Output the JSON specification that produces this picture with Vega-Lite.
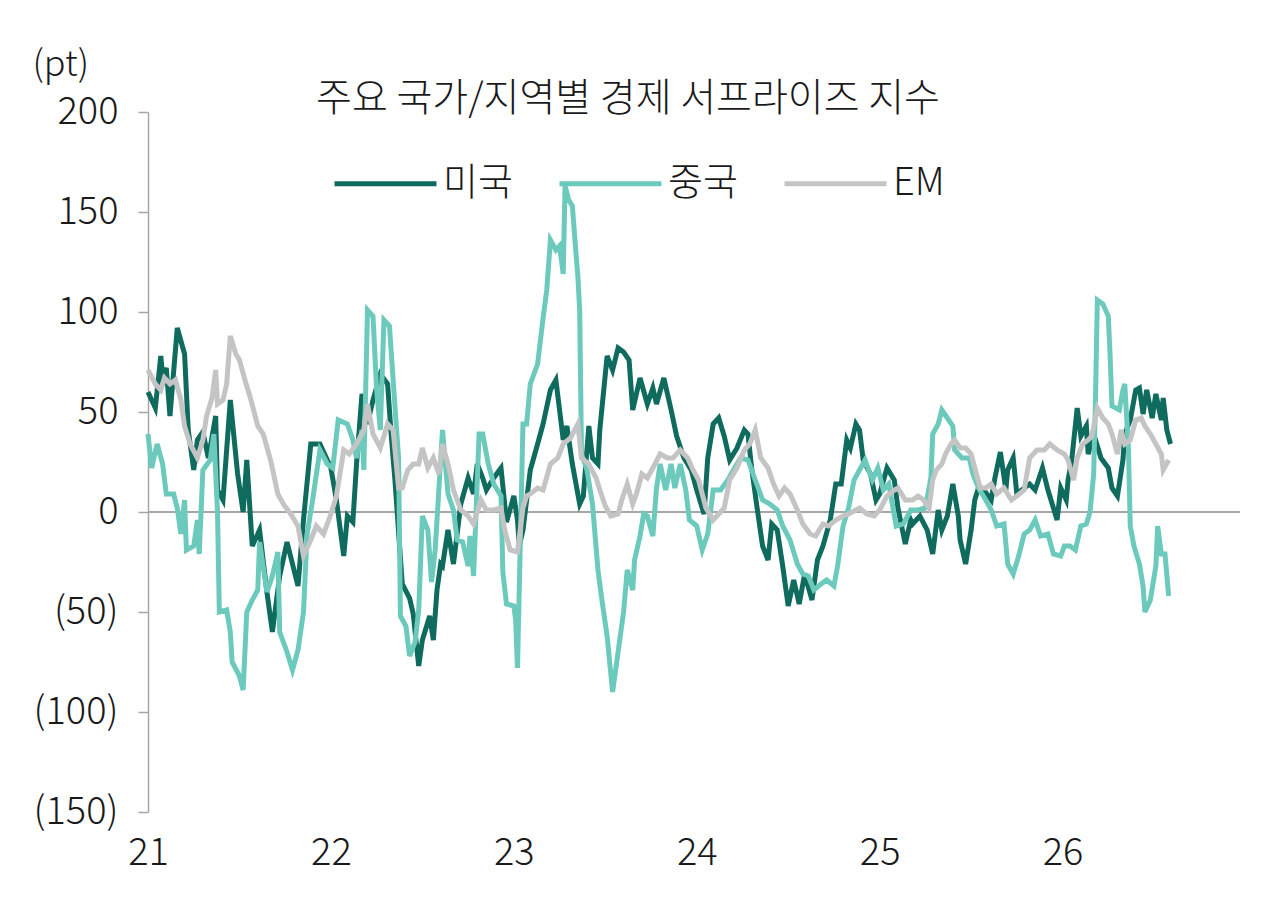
{
  "$schema": "https://vega.github.io/schema/vega-lite/v6.json",
  "description": "주요 국가/지역별 경제 서프라이즈 지수",
  "width": 1092,
  "height": 700,
  "autosize": {"type": "none"},
  "padding": {"left": 148, "top": 112, "right": 40, "bottom": 96},
  "background": "white",
  "config": {
    "font": "Noto Sans CJK KR",
    "view": {"stroke": null}
  },
  "title": {
    "text": "주요 국가/지역별 경제 서프라이즈 지수",
    "frame": "group",
    "anchor": "middle",
    "dx": -66,
    "baseline": "middle",
    "offset": -92,
    "fontSize": 39,
    "fontWeight": 300,
    "color": "#1a1a1a"
  },
  "data": {
    "values": [
      {"t":21.00,"s":"미국","v":60},{"t":21.04,"s":"미국","v":52},{"t":21.07,"s":"미국","v":78},{"t":21.08,"s":"미국","v":68},
      {"t":21.10,"s":"미국","v":72},{"t":21.12,"s":"미국","v":48},{"t":21.14,"s":"미국","v":70},{"t":21.16,"s":"미국","v":92},
      {"t":21.20,"s":"미국","v":79},{"t":21.22,"s":"미국","v":41},{"t":21.25,"s":"미국","v":21},{"t":21.27,"s":"미국","v":36},
      {"t":21.30,"s":"미국","v":40},{"t":21.33,"s":"미국","v":27},{"t":21.37,"s":"미국","v":48},{"t":21.38,"s":"미국","v":11},
      {"t":21.41,"s":"미국","v":6},{"t":21.45,"s":"미국","v":56},{"t":21.49,"s":"미국","v":19},{"t":21.52,"s":"미국","v":0},
      {"t":21.54,"s":"미국","v":26},{"t":21.57,"s":"미국","v":-17},{"t":21.61,"s":"미국","v":-9},{"t":21.65,"s":"미국","v":-40},
      {"t":21.68,"s":"미국","v":-60},{"t":21.72,"s":"미국","v":-32},{"t":21.76,"s":"미국","v":-15},{"t":21.82,"s":"미국","v":-37},
      {"t":21.85,"s":"미국","v":-4},{"t":21.89,"s":"미국","v":34},{"t":21.94,"s":"미국","v":34},{"t":22.00,"s":"미국","v":22},
      {"t":22.03,"s":"미국","v":6},{"t":22.07,"s":"미국","v":-22},{"t":22.09,"s":"미국","v":-2},{"t":22.12,"s":"미국","v":-5},
      {"t":22.14,"s":"미국","v":24},{"t":22.17,"s":"미국","v":59},{"t":22.20,"s":"미국","v":44},{"t":22.23,"s":"미국","v":56},
      {"t":22.27,"s":"미국","v":69},{"t":22.31,"s":"미국","v":64},{"t":22.32,"s":"미국","v":51},{"t":22.33,"s":"미국","v":38},
      {"t":22.35,"s":"미국","v":16},{"t":22.39,"s":"미국","v":-36},{"t":22.43,"s":"미국","v":-43},{"t":22.45,"s":"미국","v":-51},
      {"t":22.48,"s":"미국","v":-77},{"t":22.50,"s":"미국","v":-64},{"t":22.54,"s":"미국","v":-52},{"t":22.56,"s":"미국","v":-64},
      {"t":22.58,"s":"미국","v":-39},{"t":22.60,"s":"미국","v":-26},{"t":22.61,"s":"미국","v":-27},{"t":22.64,"s":"미국","v":-9},
      {"t":22.67,"s":"미국","v":-26},{"t":22.71,"s":"미국","v":4},{"t":22.75,"s":"미국","v":17},{"t":22.78,"s":"미국","v":9},
      {"t":22.80,"s":"미국","v":24},{"t":22.83,"s":"미국","v":17},{"t":22.85,"s":"미국","v":11},{"t":22.89,"s":"미국","v":17},
      {"t":22.93,"s":"미국","v":22},{"t":22.96,"s":"미국","v":-5},{"t":23.00,"s":"미국","v":8},{"t":23.02,"s":"미국","v":-4},
      {"t":23.03,"s":"미국","v":-17},{"t":23.05,"s":"미국","v":-9},{"t":23.09,"s":"미국","v":21},{"t":23.13,"s":"미국","v":34},
      {"t":23.16,"s":"미국","v":44},{"t":23.20,"s":"미국","v":61},{"t":23.23,"s":"미국","v":66},{"t":23.25,"s":"미국","v":51},
      {"t":23.27,"s":"미국","v":36},{"t":23.29,"s":"미국","v":43},{"t":23.32,"s":"미국","v":24},{"t":23.36,"s":"미국","v":4},
      {"t":23.38,"s":"미국","v":8},{"t":23.41,"s":"미국","v":43},{"t":23.43,"s":"미국","v":27},{"t":23.46,"s":"미국","v":24},
      {"t":23.47,"s":"미국","v":41},{"t":23.51,"s":"미국","v":78},{"t":23.54,"s":"미국","v":71},{"t":23.57,"s":"미국","v":82},
      {"t":23.60,"s":"미국","v":80},{"t":23.63,"s":"미국","v":76},{"t":23.65,"s":"미국","v":51},{"t":23.69,"s":"미국","v":67},
      {"t":23.73,"s":"미국","v":54},{"t":23.76,"s":"미국","v":62},{"t":23.78,"s":"미국","v":54},{"t":23.82,"s":"미국","v":67},
      {"t":23.86,"s":"미국","v":51},{"t":23.89,"s":"미국","v":38},{"t":23.93,"s":"미국","v":27},{"t":23.97,"s":"미국","v":21},
      {"t":24.00,"s":"미국","v":11},{"t":24.04,"s":"미국","v":-1},{"t":24.06,"s":"미국","v":27},{"t":24.09,"s":"미국","v":44},
      {"t":24.12,"s":"미국","v":47},{"t":24.15,"s":"미국","v":38},{"t":24.18,"s":"미국","v":26},{"t":24.22,"s":"미국","v":32},
      {"t":24.26,"s":"미국","v":41},{"t":24.28,"s":"미국","v":39},{"t":24.30,"s":"미국","v":22},{"t":24.33,"s":"미국","v":2},
      {"t":24.36,"s":"미국","v":-17},{"t":24.39,"s":"미국","v":-24},{"t":24.41,"s":"미국","v":-6},{"t":24.44,"s":"미국","v":-9},
      {"t":24.47,"s":"미국","v":-27},{"t":24.50,"s":"미국","v":-47},{"t":24.53,"s":"미국","v":-34},{"t":24.56,"s":"미국","v":-46},
      {"t":24.59,"s":"미국","v":-31},{"t":24.63,"s":"미국","v":-44},{"t":24.66,"s":"미국","v":-24},{"t":24.69,"s":"미국","v":-17},
      {"t":24.73,"s":"미국","v":-4},{"t":24.76,"s":"미국","v":14},{"t":24.79,"s":"미국","v":14},{"t":24.82,"s":"미국","v":36},
      {"t":24.84,"s":"미국","v":32},{"t":24.87,"s":"미국","v":44},{"t":24.89,"s":"미국","v":41},{"t":24.91,"s":"미국","v":26},
      {"t":24.95,"s":"미국","v":19},{"t":24.98,"s":"미국","v":6},{"t":25.00,"s":"미국","v":9},{"t":25.04,"s":"미국","v":22},
      {"t":25.08,"s":"미국","v":16},{"t":25.10,"s":"미국","v":2},{"t":25.14,"s":"미국","v":-16},{"t":25.17,"s":"미국","v":-4},
      {"t":25.18,"s":"미국","v":-6},{"t":25.22,"s":"미국","v":-2},{"t":25.26,"s":"미국","v":-9},{"t":25.29,"s":"미국","v":-21},
      {"t":25.32,"s":"미국","v":1},{"t":25.34,"s":"미국","v":-9},{"t":25.37,"s":"미국","v":-2},{"t":25.40,"s":"미국","v":14},
      {"t":25.43,"s":"미국","v":-2},{"t":25.44,"s":"미국","v":-14},{"t":25.47,"s":"미국","v":-26},{"t":25.50,"s":"미국","v":-9},
      {"t":25.52,"s":"미국","v":6},{"t":25.54,"s":"미국","v":12},{"t":25.57,"s":"미국","v":11},{"t":25.61,"s":"미국","v":6},
      {"t":25.63,"s":"미국","v":17},{"t":25.66,"s":"미국","v":30},{"t":25.69,"s":"미국","v":11},{"t":25.70,"s":"미국","v":21},
      {"t":25.73,"s":"미국","v":27},{"t":25.75,"s":"미국","v":9},{"t":25.79,"s":"미국","v":12},{"t":25.82,"s":"미국","v":14},
      {"t":25.85,"s":"미국","v":11},{"t":25.89,"s":"미국","v":22},{"t":25.92,"s":"미국","v":11},{"t":25.95,"s":"미국","v":2},
      {"t":25.97,"s":"미국","v":-4},{"t":25.99,"s":"미국","v":12},{"t":26.02,"s":"미국","v":6},{"t":26.03,"s":"미국","v":16},
      {"t":26.05,"s":"미국","v":26},{"t":26.08,"s":"미국","v":52},{"t":26.10,"s":"미국","v":38},{"t":26.13,"s":"미국","v":43},
      {"t":26.14,"s":"미국","v":29},{"t":26.17,"s":"미국","v":39},{"t":26.21,"s":"미국","v":27},{"t":26.25,"s":"미국","v":22},
      {"t":26.27,"s":"미국","v":12},{"t":26.30,"s":"미국","v":8},{"t":26.33,"s":"미국","v":26},{"t":26.34,"s":"미국","v":39},
      {"t":26.37,"s":"미국","v":46},{"t":26.40,"s":"미국","v":61},{"t":26.42,"s":"미국","v":62},{"t":26.44,"s":"미국","v":49},
      {"t":26.46,"s":"미국","v":61},{"t":26.49,"s":"미국","v":47},{"t":26.51,"s":"미국","v":59},{"t":26.54,"s":"미국","v":46},
      {"t":26.55,"s":"미국","v":57},{"t":26.57,"s":"미국","v":41},{"t":26.59,"s":"미국","v":34},

      {"t":21.00,"s":"중국","v":39},{"t":21.02,"s":"중국","v":22},{"t":21.05,"s":"중국","v":34},{"t":21.08,"s":"중국","v":24},
      {"t":21.10,"s":"중국","v":9},{"t":21.14,"s":"중국","v":9},{"t":21.16,"s":"중국","v":2},{"t":21.18,"s":"중국","v":-11},
      {"t":21.20,"s":"중국","v":6},{"t":21.21,"s":"중국","v":-19},{"t":21.25,"s":"중국","v":-17},{"t":21.27,"s":"중국","v":-4},
      {"t":21.28,"s":"중국","v":-21},{"t":21.30,"s":"중국","v":21},{"t":21.34,"s":"중국","v":26},{"t":21.36,"s":"중국","v":39},
      {"t":21.38,"s":"중국","v":0},{"t":21.39,"s":"중국","v":-50},{"t":21.43,"s":"중국","v":-49},{"t":21.45,"s":"중국","v":-60},
      {"t":21.46,"s":"중국","v":-75},{"t":21.50,"s":"중국","v":-82},{"t":21.52,"s":"중국","v":-89},{"t":21.54,"s":"중국","v":-50},
      {"t":21.57,"s":"중국","v":-44},{"t":21.60,"s":"중국","v":-39},{"t":21.61,"s":"중국","v":-15},{"t":21.65,"s":"중국","v":-40},
      {"t":21.68,"s":"중국","v":-32},{"t":21.71,"s":"중국","v":-20},{"t":21.72,"s":"중국","v":-60},{"t":21.76,"s":"중국","v":-70},
      {"t":21.79,"s":"중국","v":-79},{"t":21.82,"s":"중국","v":-69},{"t":21.85,"s":"중국","v":-50},{"t":21.87,"s":"중국","v":-11},
      {"t":21.90,"s":"중국","v":6},{"t":21.94,"s":"중국","v":31},{"t":21.98,"s":"중국","v":24},{"t":22.01,"s":"중국","v":22},
      {"t":22.04,"s":"중국","v":46},{"t":22.09,"s":"중국","v":44},{"t":22.12,"s":"중국","v":36},{"t":22.14,"s":"중국","v":27},
      {"t":22.17,"s":"중국","v":41},{"t":22.18,"s":"중국","v":21},{"t":22.20,"s":"중국","v":101},{"t":22.23,"s":"중국","v":98},
      {"t":22.25,"s":"중국","v":61},{"t":22.27,"s":"중국","v":41},{"t":22.29,"s":"중국","v":96},{"t":22.32,"s":"중국","v":93},
      {"t":22.35,"s":"중국","v":53},{"t":22.37,"s":"중국","v":27},{"t":22.38,"s":"중국","v":-52},{"t":22.41,"s":"중국","v":-57},
      {"t":22.43,"s":"중국","v":-72},{"t":22.46,"s":"중국","v":-65},{"t":22.48,"s":"중국","v":-49},{"t":22.50,"s":"중국","v":-2},
      {"t":22.53,"s":"중국","v":-9},{"t":22.55,"s":"중국","v":-35},{"t":22.57,"s":"중국","v":-19},{"t":22.61,"s":"중국","v":41},
      {"t":22.64,"s":"중국","v":9},{"t":22.67,"s":"중국","v":1},{"t":22.69,"s":"중국","v":-14},{"t":22.72,"s":"중국","v":-15},
      {"t":22.75,"s":"중국","v":-27},{"t":22.76,"s":"중국","v":-12},{"t":22.78,"s":"중국","v":-32},{"t":22.81,"s":"중국","v":39},
      {"t":22.83,"s":"중국","v":39},{"t":22.86,"s":"중국","v":24},{"t":22.89,"s":"중국","v":14},{"t":22.93,"s":"중국","v":8},
      {"t":22.94,"s":"중국","v":-30},{"t":22.96,"s":"중국","v":-46},{"t":23.00,"s":"중국","v":-47},{"t":23.01,"s":"중국","v":-54},
      {"t":23.02,"s":"중국","v":-78},{"t":23.05,"s":"중국","v":44},{"t":23.07,"s":"중국","v":44},{"t":23.09,"s":"중국","v":64},
      {"t":23.13,"s":"중국","v":74},{"t":23.16,"s":"중국","v":97},{"t":23.18,"s":"중국","v":111},{"t":23.20,"s":"중국","v":136},
      {"t":23.23,"s":"중국","v":131},{"t":23.25,"s":"중국","v":133},{"t":23.27,"s":"중국","v":119},{"t":23.28,"s":"중국","v":163},
      {"t":23.30,"s":"중국","v":156},{"t":23.32,"s":"중국","v":153},{"t":23.34,"s":"중국","v":129},{"t":23.35,"s":"중국","v":118},
      {"t":23.36,"s":"중국","v":101},{"t":23.37,"s":"중국","v":29},{"t":23.40,"s":"중국","v":21},{"t":23.43,"s":"중국","v":4},
      {"t":23.46,"s":"중국","v":-29},{"t":23.48,"s":"중국","v":-43},{"t":23.51,"s":"중국","v":-62},{"t":23.54,"s":"중국","v":-90},
      {"t":23.57,"s":"중국","v":-70},{"t":23.60,"s":"중국","v":-50},{"t":23.62,"s":"중국","v":-29},{"t":23.65,"s":"중국","v":-39},
      {"t":23.66,"s":"중국","v":-24},{"t":23.69,"s":"중국","v":-12},{"t":23.71,"s":"중국","v":-1},{"t":23.73,"s":"중국","v":-2},
      {"t":23.76,"s":"중국","v":-12},{"t":23.78,"s":"중국","v":12},{"t":23.80,"s":"중국","v":24},{"t":23.83,"s":"중국","v":11},
      {"t":23.86,"s":"중국","v":24},{"t":23.88,"s":"중국","v":12},{"t":23.91,"s":"중국","v":24},{"t":23.94,"s":"중국","v":11},
      {"t":23.96,"s":"중국","v":-4},{"t":24.00,"s":"중국","v":-7},{"t":24.03,"s":"중국","v":-19},{"t":24.06,"s":"중국","v":-11},
      {"t":24.09,"s":"중국","v":11},{"t":24.13,"s":"중국","v":11},{"t":24.17,"s":"중국","v":16},{"t":24.20,"s":"중국","v":21},
      {"t":24.24,"s":"중국","v":27},{"t":24.28,"s":"중국","v":26},{"t":24.32,"s":"중국","v":16},{"t":24.36,"s":"중국","v":6},
      {"t":24.40,"s":"중국","v":4},{"t":24.44,"s":"중국","v":1},{"t":24.47,"s":"중국","v":-7},{"t":24.51,"s":"중국","v":-14},
      {"t":24.55,"s":"중국","v":-26},{"t":24.58,"s":"중국","v":-31},{"t":24.61,"s":"중국","v":-32},{"t":24.64,"s":"중국","v":-39},
      {"t":24.68,"s":"중국","v":-36},{"t":24.71,"s":"중국","v":-34},{"t":24.75,"s":"중국","v":-37},{"t":24.77,"s":"중국","v":-27},
      {"t":24.80,"s":"중국","v":-7},{"t":24.83,"s":"중국","v":2},{"t":24.86,"s":"중국","v":16},{"t":24.89,"s":"중국","v":21},
      {"t":24.92,"s":"중국","v":26},{"t":24.96,"s":"중국","v":16},{"t":24.99,"s":"중국","v":22},{"t":25.02,"s":"중국","v":11},
      {"t":25.05,"s":"중국","v":14},{"t":25.09,"s":"중국","v":-7},{"t":25.13,"s":"중국","v":-6},{"t":25.17,"s":"중국","v":1},
      {"t":25.21,"s":"중국","v":1},{"t":25.25,"s":"중국","v":2},{"t":25.28,"s":"중국","v":17},{"t":25.29,"s":"중국","v":39},
      {"t":25.32,"s":"중국","v":44},{"t":25.34,"s":"중국","v":51},{"t":25.37,"s":"중국","v":47},{"t":25.40,"s":"중국","v":43},
      {"t":25.41,"s":"중국","v":31},{"t":25.45,"s":"중국","v":27},{"t":25.49,"s":"중국","v":27},{"t":25.51,"s":"중국","v":19},
      {"t":25.54,"s":"중국","v":12},{"t":25.58,"s":"중국","v":6},{"t":25.61,"s":"중국","v":1},{"t":25.64,"s":"중국","v":-7},
      {"t":25.68,"s":"중국","v":-6},{"t":25.70,"s":"중국","v":-26},{"t":25.73,"s":"중국","v":-31},{"t":25.76,"s":"중국","v":-22},
      {"t":25.79,"s":"중국","v":-11},{"t":25.82,"s":"중국","v":-9},{"t":25.85,"s":"중국","v":-4},{"t":25.88,"s":"중국","v":-12},
      {"t":25.92,"s":"중국","v":-11},{"t":25.95,"s":"중국","v":-21},{"t":25.99,"s":"중국","v":-22},{"t":26.01,"s":"중국","v":-17},
      {"t":26.04,"s":"중국","v":-17},{"t":26.07,"s":"중국","v":-19},{"t":26.10,"s":"중국","v":-7},{"t":26.13,"s":"중국","v":-6},
      {"t":26.15,"s":"중국","v":0},{"t":26.17,"s":"중국","v":19},{"t":26.18,"s":"중국","v":57},{"t":26.19,"s":"중국","v":106},
      {"t":26.22,"s":"중국","v":104},{"t":26.25,"s":"중국","v":98},{"t":26.26,"s":"중국","v":78},{"t":26.27,"s":"중국","v":53},
      {"t":26.31,"s":"중국","v":51},{"t":26.33,"s":"중국","v":61},{"t":26.34,"s":"중국","v":64},{"t":26.36,"s":"중국","v":32},
      {"t":26.37,"s":"중국","v":-7},{"t":26.39,"s":"중국","v":-17},{"t":26.42,"s":"중국","v":-26},{"t":26.44,"s":"중국","v":-37},
      {"t":26.45,"s":"중국","v":-50},{"t":26.48,"s":"중국","v":-44},{"t":26.51,"s":"중국","v":-27},{"t":26.52,"s":"중국","v":-7},
      {"t":26.54,"s":"중국","v":-21},{"t":26.56,"s":"중국","v":-21},{"t":26.58,"s":"중국","v":-42},

      {"t":21.00,"s":"EM","v":71},{"t":21.04,"s":"EM","v":64},{"t":21.07,"s":"EM","v":61},{"t":21.09,"s":"EM","v":67},
      {"t":21.12,"s":"EM","v":64},{"t":21.15,"s":"EM","v":66},{"t":21.18,"s":"EM","v":56},{"t":21.20,"s":"EM","v":43},
      {"t":21.23,"s":"EM","v":34},{"t":21.27,"s":"EM","v":27},{"t":21.30,"s":"EM","v":36},{"t":21.32,"s":"EM","v":48},
      {"t":21.35,"s":"EM","v":57},{"t":21.37,"s":"EM","v":71},{"t":21.38,"s":"EM","v":54},{"t":21.41,"s":"EM","v":56},
      {"t":21.43,"s":"EM","v":64},{"t":21.45,"s":"EM","v":88},{"t":21.48,"s":"EM","v":79},{"t":21.50,"s":"EM","v":76},
      {"t":21.53,"s":"EM","v":66},{"t":21.56,"s":"EM","v":57},{"t":21.60,"s":"EM","v":43},{"t":21.63,"s":"EM","v":39},
      {"t":21.67,"s":"EM","v":26},{"t":21.71,"s":"EM","v":9},{"t":21.74,"s":"EM","v":4},{"t":21.78,"s":"EM","v":-1},
      {"t":21.82,"s":"EM","v":-7},{"t":21.85,"s":"EM","v":-22},{"t":21.89,"s":"EM","v":-14},{"t":21.92,"s":"EM","v":-7},
      {"t":21.96,"s":"EM","v":-11},{"t":22.00,"s":"EM","v":-1},{"t":22.03,"s":"EM","v":8},{"t":22.07,"s":"EM","v":31},
      {"t":22.10,"s":"EM","v":29},{"t":22.14,"s":"EM","v":34},{"t":22.18,"s":"EM","v":41},{"t":22.20,"s":"EM","v":54},
      {"t":22.23,"s":"EM","v":39},{"t":22.27,"s":"EM","v":32},{"t":22.31,"s":"EM","v":44},{"t":22.34,"s":"EM","v":41},
      {"t":22.37,"s":"EM","v":12},{"t":22.39,"s":"EM","v":12},{"t":22.42,"s":"EM","v":21},{"t":22.45,"s":"EM","v":24},
      {"t":22.48,"s":"EM","v":24},{"t":22.50,"s":"EM","v":32},{"t":22.53,"s":"EM","v":22},{"t":22.56,"s":"EM","v":27},
      {"t":22.59,"s":"EM","v":19},{"t":22.61,"s":"EM","v":34},{"t":22.64,"s":"EM","v":24},{"t":22.67,"s":"EM","v":11},
      {"t":22.71,"s":"EM","v":1},{"t":22.75,"s":"EM","v":-2},{"t":22.78,"s":"EM","v":-6},{"t":22.82,"s":"EM","v":6},
      {"t":22.85,"s":"EM","v":1},{"t":22.89,"s":"EM","v":1},{"t":22.93,"s":"EM","v":2},{"t":22.95,"s":"EM","v":-9},
      {"t":22.98,"s":"EM","v":-19},{"t":23.02,"s":"EM","v":-20},{"t":23.05,"s":"EM","v":2},{"t":23.07,"s":"EM","v":8},
      {"t":23.09,"s":"EM","v":9},{"t":23.13,"s":"EM","v":12},{"t":23.16,"s":"EM","v":11},{"t":23.20,"s":"EM","v":24},
      {"t":23.24,"s":"EM","v":27},{"t":23.27,"s":"EM","v":34},{"t":23.31,"s":"EM","v":37},{"t":23.35,"s":"EM","v":44},
      {"t":23.37,"s":"EM","v":27},{"t":23.41,"s":"EM","v":24},{"t":23.45,"s":"EM","v":17},{"t":23.47,"s":"EM","v":11},
      {"t":23.50,"s":"EM","v":3},{"t":23.53,"s":"EM","v":-2},{"t":23.57,"s":"EM","v":-1},{"t":23.59,"s":"EM","v":6},
      {"t":23.62,"s":"EM","v":14},{"t":23.65,"s":"EM","v":4},{"t":23.67,"s":"EM","v":9},{"t":23.70,"s":"EM","v":19},
      {"t":23.73,"s":"EM","v":17},{"t":23.76,"s":"EM","v":22},{"t":23.80,"s":"EM","v":29},{"t":23.84,"s":"EM","v":27},
      {"t":23.87,"s":"EM","v":27},{"t":23.91,"s":"EM","v":31},{"t":23.95,"s":"EM","v":27},{"t":23.98,"s":"EM","v":21},
      {"t":24.01,"s":"EM","v":16},{"t":24.05,"s":"EM","v":2},{"t":24.09,"s":"EM","v":-4},{"t":24.12,"s":"EM","v":-1},
      {"t":24.15,"s":"EM","v":2},{"t":24.18,"s":"EM","v":16},{"t":24.22,"s":"EM","v":22},{"t":24.26,"s":"EM","v":31},
      {"t":24.29,"s":"EM","v":34},{"t":24.32,"s":"EM","v":41},{"t":24.35,"s":"EM","v":27},{"t":24.39,"s":"EM","v":22},
      {"t":24.42,"s":"EM","v":14},{"t":24.45,"s":"EM","v":8},{"t":24.48,"s":"EM","v":12},{"t":24.51,"s":"EM","v":9},
      {"t":24.55,"s":"EM","v":1},{"t":24.58,"s":"EM","v":-6},{"t":24.62,"s":"EM","v":-11},{"t":24.65,"s":"EM","v":-12},
      {"t":24.69,"s":"EM","v":-6},{"t":24.72,"s":"EM","v":-7},{"t":24.76,"s":"EM","v":-4},{"t":24.80,"s":"EM","v":-2},
      {"t":24.83,"s":"EM","v":-1},{"t":24.87,"s":"EM","v":1},{"t":24.89,"s":"EM","v":2},{"t":24.93,"s":"EM","v":-1},
      {"t":24.97,"s":"EM","v":-2},{"t":25.00,"s":"EM","v":1},{"t":25.04,"s":"EM","v":8},{"t":25.08,"s":"EM","v":11},
      {"t":25.10,"s":"EM","v":12},{"t":25.14,"s":"EM","v":6},{"t":25.18,"s":"EM","v":6},{"t":25.21,"s":"EM","v":8},
      {"t":25.24,"s":"EM","v":6},{"t":25.27,"s":"EM","v":2},{"t":25.29,"s":"EM","v":16},{"t":25.31,"s":"EM","v":21},
      {"t":25.34,"s":"EM","v":24},{"t":25.36,"s":"EM","v":29},{"t":25.39,"s":"EM","v":34},{"t":25.41,"s":"EM","v":36},
      {"t":25.44,"s":"EM","v":32},{"t":25.47,"s":"EM","v":32},{"t":25.50,"s":"EM","v":29},{"t":25.52,"s":"EM","v":22},
      {"t":25.55,"s":"EM","v":12},{"t":25.58,"s":"EM","v":12},{"t":25.61,"s":"EM","v":14},{"t":25.64,"s":"EM","v":9},
      {"t":25.68,"s":"EM","v":12},{"t":25.72,"s":"EM","v":6},{"t":25.75,"s":"EM","v":8},{"t":25.79,"s":"EM","v":11},
      {"t":25.82,"s":"EM","v":27},{"t":25.86,"s":"EM","v":31},{"t":25.90,"s":"EM","v":31},{"t":25.93,"s":"EM","v":34},
      {"t":25.97,"s":"EM","v":31},{"t":26.01,"s":"EM","v":29},{"t":26.03,"s":"EM","v":26},{"t":26.06,"s":"EM","v":16},
      {"t":26.08,"s":"EM","v":27},{"t":26.11,"s":"EM","v":34},{"t":26.14,"s":"EM","v":36},{"t":26.16,"s":"EM","v":38},
      {"t":26.19,"s":"EM","v":52},{"t":26.22,"s":"EM","v":47},{"t":26.25,"s":"EM","v":44},{"t":26.27,"s":"EM","v":39},
      {"t":26.30,"s":"EM","v":29},{"t":26.32,"s":"EM","v":41},{"t":26.34,"s":"EM","v":34},{"t":26.37,"s":"EM","v":36},
      {"t":26.40,"s":"EM","v":46},{"t":26.43,"s":"EM","v":47},{"t":26.45,"s":"EM","v":43},{"t":26.48,"s":"EM","v":39},
      {"t":26.51,"s":"EM","v":34},{"t":26.54,"s":"EM","v":29},{"t":26.55,"s":"EM","v":21},{"t":26.58,"s":"EM","v":26}
    ]
  },
  "layer": [
    {
      "mark": {"type": "rule", "color": "#a6a6a6", "strokeWidth": 1.5},
      "encoding": {"y": {"datum": 0, "type": "quantitative"}}
    },
    {
      "mark": {"type": "line", "strokeWidth": 5, "interpolate": "linear"},
      "encoding": {
        "x": {
          "field": "t",
          "type": "quantitative",
          "scale": {"domain": [21, 26.97], "nice": false, "zero": false},
          "axis": {
            "title": null,
            "values": [21, 22, 23, 24, 25, 26],
            "format": "d",
            "domain": false,
            "ticks": false,
            "grid": false,
            "labelPadding": 22,
            "labelFontSize": 38,
            "labelFontWeight": 300,
            "labelColor": "#1a1a1a",
            "labelFlush": false
          }
        },
        "y": {
          "field": "v",
          "type": "quantitative",
          "scale": {"domain": [-150, 200], "nice": false},
          "axis": {
            "title": "(pt)",
            "titleAngle": 0,
            "titleAlign": "left",
            "titleBaseline": "middle",
            "titleX": -116,
            "titleY": -48,
            "titleFontSize": 36,
            "titleFontWeight": 300,
            "titleColor": "#1a1a1a",
            "values": [-150, -100, -50, 0, 50, 100, 150, 200],
            "labelExpr": "datum.value < 0 ? '(' + (-datum.value) + ')' : datum.value + '\u00a0'",
            "grid": false,
            "domainColor": "#a6a6a6",
            "domainWidth": 1.5,
            "tickColor": "#a6a6a6",
            "tickWidth": 1.5,
            "tickSize": 10,
            "labelPadding": 20,
            "labelFontSize": 38,
            "labelFontWeight": 300,
            "labelColor": "#1a1a1a"
          }
        },
        "color": {
          "field": "s",
          "type": "nominal",
          "scale": {
            "domain": ["미국", "중국", "EM"],
            "range": ["#0e6b5e", "#6ccabc", "#c4c4c4"]
          },
          "legend": {
            "title": null,
            "orient": "none",
            "legendX": 184,
            "legendY": 18,
            "direction": "horizontal",
            "symbolType": "stroke",
            "symbolSize": 10404,
            "symbolStrokeWidth": 5,
            "labelFontSize": 38,
            "labelFontWeight": 300,
            "labelColor": "#1a1a1a",
            "labelOffset": 4,
            "columnPadding": 36,
            "padding": 0
          }
        }
      }
    }
  ]
}
